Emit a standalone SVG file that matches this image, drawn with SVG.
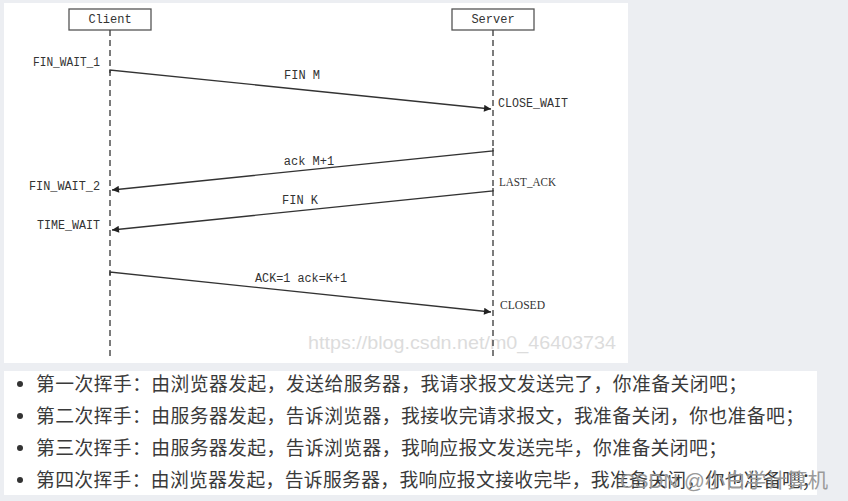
<svg xmlns="http://www.w3.org/2000/svg" width="848" height="501" viewBox="0 0 848 501">
<defs>
<marker id="ah" viewBox="0 0 10 10" refX="10" refY="5" markerWidth="9" markerHeight="7" markerUnits="userSpaceOnUse" orient="auto">
<path d="M0,0 L10,5 L0,10 z" fill="#222"/>
</marker>
<style>
.bg{fill:#eceef2}
.panel{fill:#ffffff}
.box{fill:#fff;stroke:#555;stroke-width:1.3}
.life{stroke:#444;stroke-width:1.4;stroke-dasharray:6 4;fill:none}
.msg{stroke:#333;stroke-width:1.3;fill:none}
.t{font-family:"Liberation Mono","DejaVu Sans Mono",monospace;font-size:12px;fill:#333}
.lbl{font-family:"Liberation Serif","DejaVu Serif",serif;font-size:12px;fill:#333}
.cn{font-family:"Noto Sans CJK SC","Noto Sans",sans-serif;font-size:18.8px;fill:#3a3a3a}
.wm{font-family:"Liberation Sans",Arial,sans-serif;font-size:19px;fill:#dcdcdc}
.wm2{font-family:"Liberation Sans","Noto Sans CJK SC",sans-serif;font-size:20px;fill:#9a9a9a}
</style>
</defs>
<rect class="bg" x="0" y="0" width="848" height="501"/>
<rect class="panel" x="4" y="3" width="624" height="360"/>
<rect class="panel" x="4" y="371" width="813" height="124"/>

<text class="wm" x="308" y="349" textLength="308" lengthAdjust="spacingAndGlyphs">https://blog.csdn.net/m0_46403734</text>

<g id="client">
<rect class="box" x="69" y="9" width="82" height="21"/>
<text class="t" x="110" y="23" text-anchor="middle">Client</text>
</g>
<g id="server">
<rect class="box" x="452" y="9" width="82" height="21"/>
<text class="t" x="493" y="23" text-anchor="middle">Server</text>
</g>

<g id="connectors">
<line class="life" x1="110" y1="30" x2="110" y2="356"/>
<line class="life" x1="493" y1="30" x2="493" y2="356"/>
<path class="msg" d="M110,73 L110,70 L491,109" marker-end="url(#ah)"/>
<path class="msg" d="M493,148 L493,151 L112,190" marker-end="url(#ah)"/>
<path class="msg" d="M493,188 L493,191 L112,230" marker-end="url(#ah)"/>
<path class="msg" d="M110,275 L110,272 L491,312" marker-end="url(#ah)"/>
<text class="t" x="302" y="79" text-anchor="middle">FIN M</text>
<text class="t" x="309" y="165" text-anchor="middle">ack M+1</text>
<text class="t" x="300" y="204" text-anchor="middle">FIN K</text>
<text class="t" x="301" y="282" text-anchor="middle" textLength="92" lengthAdjust="spacingAndGlyphs">ACK=1 ack=K+1</text>
</g>

<g id="states">
<text class="t" x="33" y="66" textLength="67" lengthAdjust="spacingAndGlyphs">FIN_WAIT_1</text>
<text class="t" x="498" y="107" textLength="70" lengthAdjust="spacingAndGlyphs">CLOSE_WAIT</text>
<text class="t" x="29" y="190" textLength="71" lengthAdjust="spacingAndGlyphs">FIN_WAIT_2</text>
<text class="lbl" x="499" y="186" textLength="57" lengthAdjust="spacingAndGlyphs">LAST_ACK</text>
<text class="t" x="37" y="229" textLength="63" lengthAdjust="spacingAndGlyphs">TIME_WAIT</text>
<text class="lbl" x="500" y="309" textLength="45" lengthAdjust="spacingAndGlyphs">CLOSED</text>
</g>

<g id="notes">
<circle cx="20" cy="384" r="3" fill="#333"/>
<circle cx="20" cy="416" r="3" fill="#333"/>
<circle cx="20" cy="448" r="3" fill="#333"/>
<circle cx="20" cy="480" r="3" fill="#333"/>
<text class="cn" x="36" y="391" textLength="711" lengthAdjust="spacing">第一次挥手：由浏览器发起，发送给服务器，我请求报文发送完了，你准备关闭吧；</text>
<text class="cn" x="36" y="423" textLength="768" lengthAdjust="spacing">第二次挥手：由服务器发起，告诉浏览器，我接收完请求报文，我准备关闭，你也准备吧；</text>
<text class="cn" x="36" y="455" textLength="691" lengthAdjust="spacing">第三次挥手：由服务器发起，告诉浏览器，我响应报文发送完毕，你准备关闭吧；</text>
<text class="cn" x="36" y="487" textLength="784" lengthAdjust="spacing">第四次挥手：由浏览器发起，告诉服务器，我响应报文接收完毕，我准备关闭，你也准备吧；</text>
<text class="wm2" x="620" y="488" textLength="208" lengthAdjust="spacingAndGlyphs">CSDN @小白学计算机</text>
</g>
</svg>
